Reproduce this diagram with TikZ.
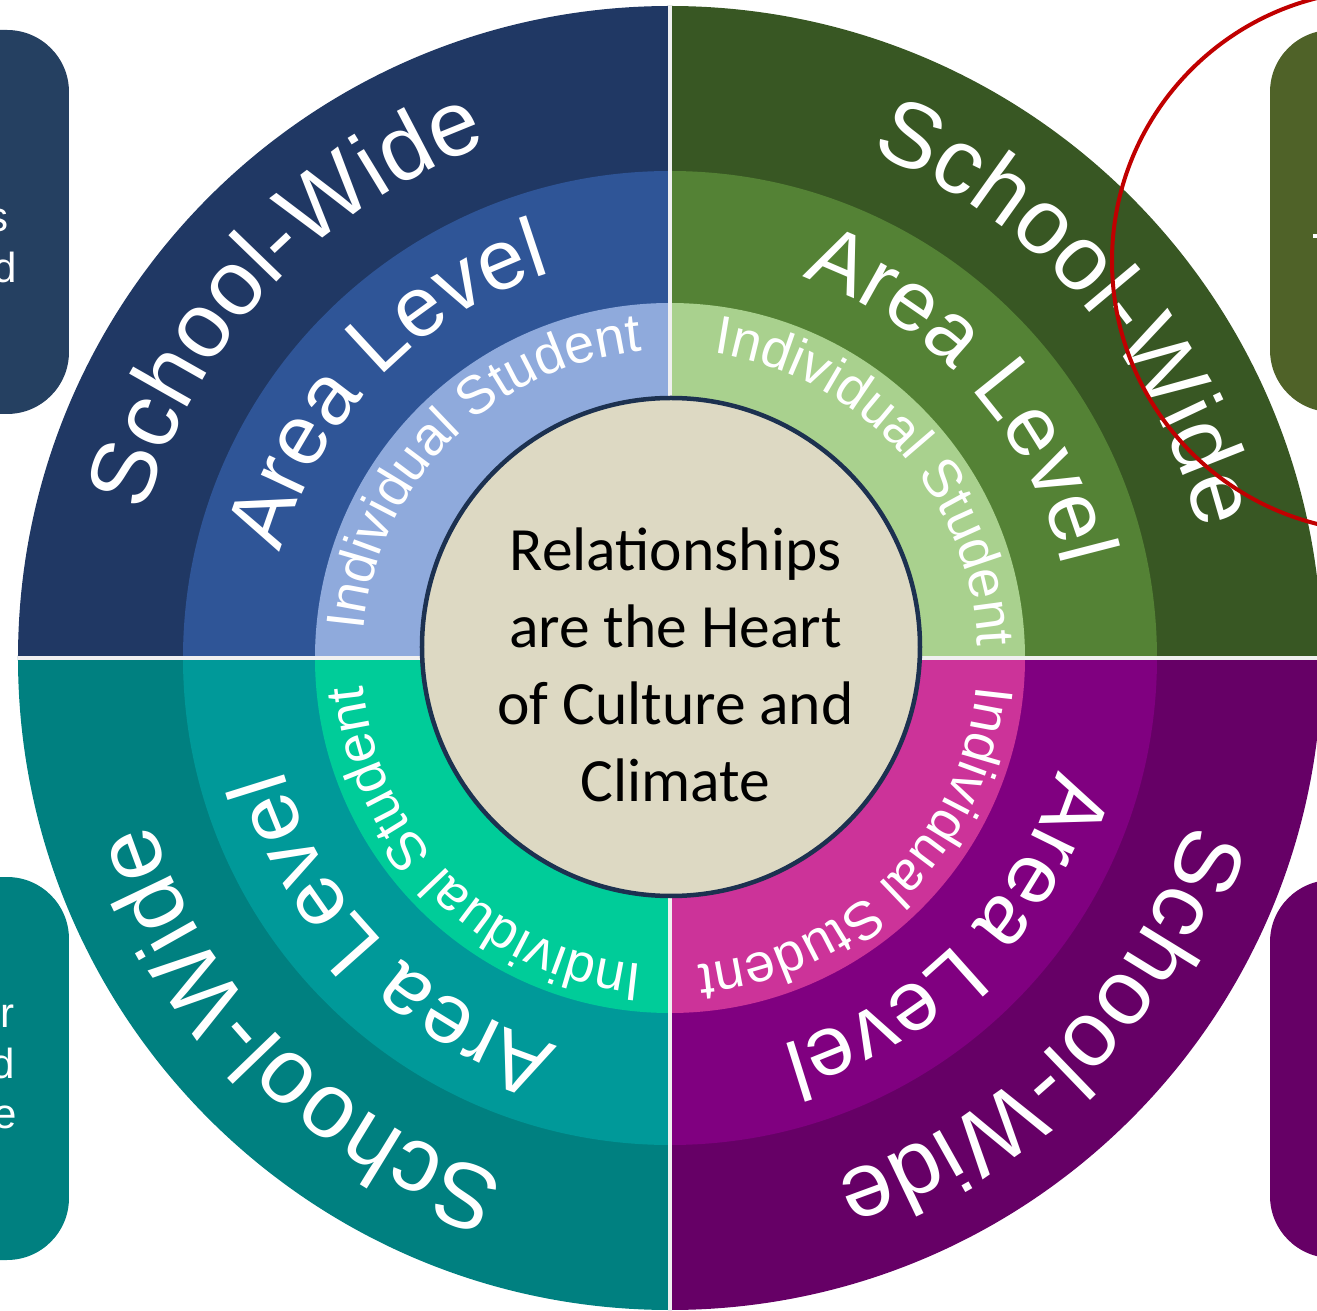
\documentclass[tikz,border=0pt]{standalone}
\usepackage{fontspec}
\setmainfont{Liberation Sans}
\newfontfamily\heartfont{Carlito}
\usetikzlibrary{decorations.text}

\definecolor{tlOuter}{HTML}{203864}
\definecolor{tlMid}{HTML}{2F5597}
\definecolor{tlInner}{HTML}{8FAADC}
\definecolor{trOuter}{HTML}{385723}
\definecolor{trMid}{HTML}{548235}
\definecolor{trInner}{HTML}{A9D18E}
\definecolor{blOuter}{HTML}{008080}
\definecolor{blMid}{HTML}{009999}
\definecolor{blInner}{HTML}{00CC99}
\definecolor{brOuter}{HTML}{660066}
\definecolor{brMid}{HTML}{800080}
\definecolor{brInner}{HTML}{CC3399}
\definecolor{coreFill}{HTML}{DDD9C3}
\definecolor{coreLine}{HTML}{1C3150}
\definecolor{tlBox}{HTML}{254061}
\definecolor{trBox}{HTML}{4F6228}
\definecolor{markRed}{HTML}{C00000}

\begin{document}
\begin{tikzpicture}[x = 1pt, y = 1pt]
	\tikzstyle{ringText}=[decorate, decoration = {text along path, text align = center, text color = white}]
	\tikzstyle{sideBox}=[rounded corners = 62pt]
	\tikzstyle{sideText}=[anchor = base east, inner sep = 0pt, text = white, font = \fontsize{42}{50}\selectfont]
	\tikzstyle{divider}=[draw = white!88!gray, line width = 4pt]
	\tikzstyle{coreStyle}=[shape = circle, minimum size = 498pt, inner sep = 0pt, fill = coreFill, draw = coreLine, line width = 4.5pt]
	\path[use as bounding box] (-670,-653) rectangle (647,658);
	\clip (-670,-653) rectangle (647,658);
	\fill[sideBox, tlBox] (-760,244) rectangle (-601,628);
	\fill[sideBox, blOuter] (-760,-602) rectangle (-601,-219);
	\fill[sideBox, trBox] (600,246) rectangle (760,628);
	\fill[sideBox, brOuter] (600,-600) rectangle (760,-222);
	\node[sideText] (tlS) at (-661,426) {s};
	\node[sideText] (tlD) at (-653,375) {d};
	\node[sideText] (blR) at (-655,-369) {r};
	\node[sideText] (blD) at (-655,-420) {d};
	\node[sideText] (blE) at (-653,-470) {e};
	\fill[white] (643,420) rectangle (647,424);
	\fill[trOuter] (0,0) -- (0:652) arc[start angle = 0, end angle = 90, radius = 652] -- cycle;
	\fill[tlOuter] (0,0) -- (90:652) arc[start angle = 90, end angle = 180, radius = 652] -- cycle;
	\fill[blOuter] (0,0) -- (180:652) arc[start angle = 180, end angle = 270, radius = 652] -- cycle;
	\fill[brOuter] (0,0) -- (270:652) arc[start angle = 270, end angle = 360, radius = 652] -- cycle;
	\fill[trMid] (0,0) -- (0:487) arc[start angle = 0, end angle = 90, radius = 487] -- cycle;
	\fill[tlMid] (0,0) -- (90:487) arc[start angle = 90, end angle = 180, radius = 487] -- cycle;
	\fill[blMid] (0,0) -- (180:487) arc[start angle = 180, end angle = 270, radius = 487] -- cycle;
	\fill[brMid] (0,0) -- (270:487) arc[start angle = 270, end angle = 360, radius = 487] -- cycle;
	\fill[trInner] (0,0) -- (0:355) arc[start angle = 0, end angle = 90, radius = 355] -- cycle;
	\fill[tlInner] (0,0) -- (90:355) arc[start angle = 90, end angle = 180, radius = 355] -- cycle;
	\fill[blInner] (0,0) -- (180:355) arc[start angle = 180, end angle = 270, radius = 355] -- cycle;
	\fill[brInner] (0,0) -- (270:355) arc[start angle = 270, end angle = 360, radius = 355] -- cycle;
	\path[divider] (0,-652) -- (0,652);
	\path[divider] (-652,0) -- (652,0);
	\path[ringText, decoration = {text = {|\fontsize{92}{92}\selectfont|School-Wide}}] (197:544) arc[start angle = 197, end angle = 77, radius = 544];
	\path[ringText, decoration = {text = {|\fontsize{85}{85}\selectfont|Area Level}}] (196:403) arc[start angle = 196, end angle = 76, radius = 403];
	\path[ringText, decoration = {text = {|\fontsize{54}{54}\selectfont|Individual Student}}] (195:308) arc[start angle = 195, end angle = 75, radius = 308];
	\path[ringText, decoration = {text = {|\fontsize{92}{92}\selectfont|School-Wide}}] (101:544) arc[start angle = 101, end angle = -19, radius = 544];
	\path[ringText, decoration = {text = {|\fontsize{85}{85}\selectfont|Area Level}}] (102:403) arc[start angle = 102, end angle = -18, radius = 403];
	\path[ringText, decoration = {text = {|\fontsize{54}{54}\selectfont|Individual Student}}] (102:308) arc[start angle = 102, end angle = -18, radius = 308];
	\path[ringText, decoration = {text = {|\fontsize{92}{92}\selectfont|School-Wide}}] (-75:544) arc[start angle = -75, end angle = -195, radius = 544];
	\path[ringText, decoration = {text = {|\fontsize{85}{85}\selectfont|Area Level}}] (-75:403) arc[start angle = -75, end angle = -195, radius = 403];
	\path[ringText, decoration = {text = {|\fontsize{54}{54}\selectfont|Individual Student}}] (-75:308) arc[start angle = -75, end angle = -195, radius = 308];
	\path[ringText, decoration = {text = {|\fontsize{92}{92}\selectfont|School-Wide}}] (15:544) arc[start angle = 15, end angle = -105, radius = 544];
	\path[ringText, decoration = {text = {|\fontsize{85}{85}\selectfont|Area Level}}] (15:403) arc[start angle = 15, end angle = -105, radius = 403];
	\path[ringText, decoration = {text = {|\fontsize{54}{54}\selectfont|Individual Student}}] (15:308) arc[start angle = 15, end angle = -105, radius = 308];
	\node[coreStyle] (core) at (1,11) {};
	\node[font = \heartfont\fontsize{61.5}{77}\selectfont, align = center, inner sep = 0pt] (heart) at (5.5,-7) {Relationships\\are the Heart\\of Culture and\\Climate};
	\draw[markRed, line width = 4pt] (713,397) circle[radius = 271];
\end{tikzpicture}
\end{document}
